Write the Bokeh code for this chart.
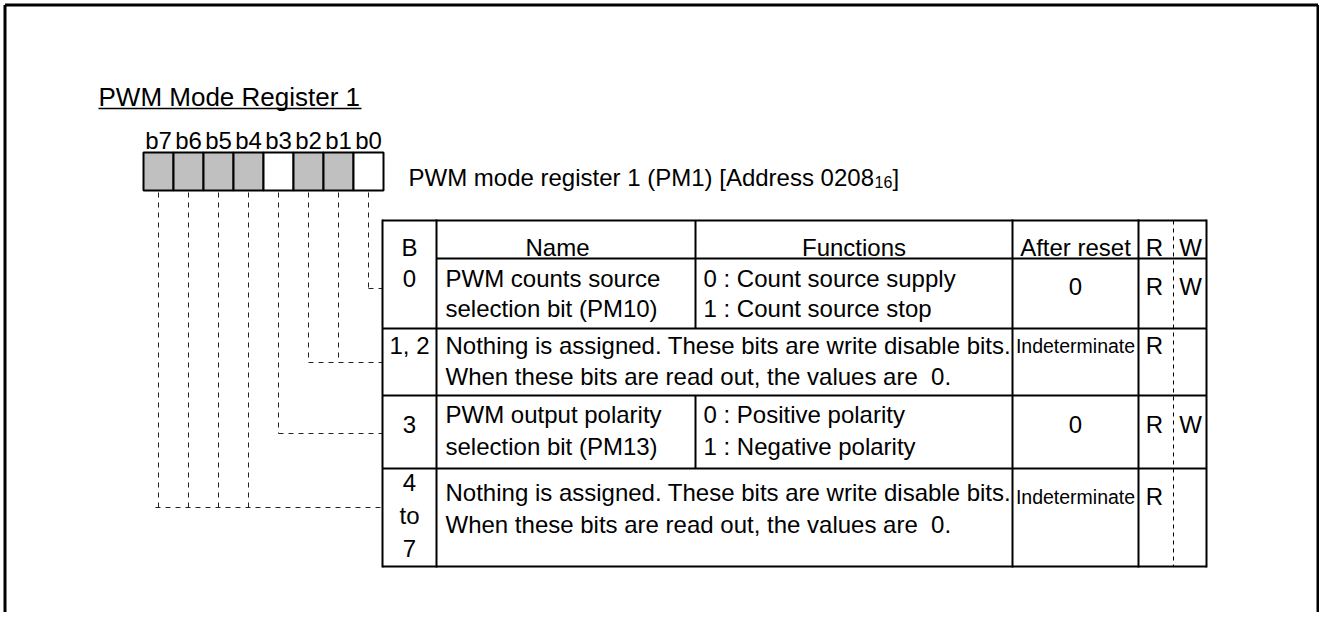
from bokeh.plotting import figure
from bokeh.models import Range1d
from bokeh.embed import file_html
from bokeh.resources import INLINE
from bokeh.core.properties import value

# ---------------- data ----------------
title_text = "PWM Mode Register 1"
bit_labels = ["b7", "b6", "b5", "b4", "b3", "b2", "b1", "b0"]
bit_unused = [True, True, True, True, False, True, True, False]
register_text = "PWM mode register 1 (PM1) [Address 0208"
register_sub = "16"
register_end = "]"
header_labels = ["B", "Name", "Functions", "After reset", "R", "W"]
row_bits = [["0"], ["1, 2"], ["3"], ["4", "to", "7"]]
row_bit_groups = [[0], [1, 2], [3], [4, 5, 6, 7]]
row_names = [["PWM counts source", "selection bit (PM10)"], None,
             ["PWM output polarity", "selection bit (PM13)"], None]
row_functions = [["0 : Count source supply", "1 : Count source stop"], None,
                 ["0 : Positive polarity", "1 : Negative polarity"], None]
nothing_text = ["Nothing is assigned. These bits are write disable bits.",
                "When these bits are read out, the values are \u00a00."]
row_spans = [None, nothing_text, None, nothing_text]
row_reset = ["0", "Indeterminate", "0", "Indeterminate"]
row_read = ["R", "R", "R", "R"]
row_write = ["W", "", "W", ""]

# ---------------- layout ----------------
W, H = 1319, 612
FONT = value("Liberation Sans")
FS = "24px"
box_left, box_w, box_top, box_bot = 143, 30, 152, 190
col_x = [382, 436, 695, 1012, 1138, 1173, 1206]
row_y = [220, 258, 328, 395, 468, 566]
line_mid = [[278, 308], [345, 376], [414, 446], [492, 524]]
bit_mid = [[278], [345], [424], [482, 515, 548]]
val_mid = [286, 345, 424, 496]
conn_y = [288, 362, 433, 507]

p = figure(width=W, height=H, x_range=Range1d(0, W), y_range=Range1d(H, 0),
           x_axis_type=None, y_axis_type=None, output_backend="svg",
           toolbar_location=None, min_border=0)
p.grid.visible = False
p.outline_line_color = None
p.background_fill_color = "white"
p.border_fill_color = "white"

# outer frame (left, top, right)
p.segment(x0=[4.5, 4.5, 1317.5], y0=[4.5, 4.5, 4.5], x1=[4.5, 1317.5, 1317.5],
          y1=[640, 4.5, 640], line_color="black", line_width=3)

# title + underline
p.text(x=[98], y=[96], text=[title_text], text_font=FONT, text_font_size="26px",
       text_baseline="middle", text_color="black")
p.segment(x0=[98], y0=[108], x1=[361], y1=[108], line_color="black", line_width=1.5)

# bit boxes
n = len(bit_labels)
lefts = [box_left + i * box_w for i in range(n)]
centers = [l + box_w / 2 for l in lefts]
p.quad(left=lefts, right=[l + box_w for l in lefts], top=[box_top] * n, bottom=[box_bot] * n,
       fill_color=["#c0c0c0" if u else "white" for u in bit_unused],
       line_color="black", line_width=2)
p.text(x=centers, y=[140] * n, text=bit_labels, text_font=FONT, text_font_size=FS,
       text_align="center", text_baseline="middle", text_color="black")

# register description
p.text(x=[408], y=[177], text=[register_text], text_font=FONT, text_font_size=FS,
       text_baseline="middle", text_color="black")
p.text(x=[874], y=[181], text=[register_sub], text_font=FONT, text_font_size="16px",
       text_baseline="middle", text_color="black")
p.text(x=[892], y=[177], text=[register_end], text_font=FONT, text_font_size=FS,
       text_baseline="middle", text_color="black")

# dashed connectors from bits to rows
vx0, vy0, vx1, vy1 = [], [], [], []
for r, grp in enumerate(row_bit_groups):
    xs = [centers[n - 1 - b] for b in grp]
    for x in xs:
        vx0.append(x); vy0.append(box_bot + 2); vx1.append(x); vy1.append(conn_y[r])
    vx0.append(min(xs) - (3 if len(grp) > 2 else 0)); vy0.append(conn_y[r])
    vx1.append(col_x[0]); vy1.append(conn_y[r])
p.segment(x0=vx0, y0=vy0, x1=vx1, y1=vy1, line_color="#222222", line_width=1,
          line_dash="5 5")

# table lines
top, bot = row_y[0], row_y[-1]
hx0 = [col_x[0], col_x[1]] + [col_x[0]] * (len(row_y) - 2)
hy = [row_y[0], row_y[1]] + row_y[2:]
hx1 = [col_x[-1]] * len(hy)
p.segment(x0=hx0, y0=hy, x1=hx1, y1=hy, line_color="black", line_width=2)
vxs = [col_x[0], col_x[1], col_x[3], col_x[4], col_x[6]]
p.segment(x0=vxs, y0=[top - 1] * len(vxs), x1=vxs, y1=[bot + 1] * len(vxs),
          line_color="black", line_width=2)
# Name/Functions divider (header, and rows having both)
dy0, dy1 = [row_y[0]], [row_y[1]]
for r in range(len(row_bits)):
    if row_names[r] is not None:
        dy0.append(row_y[r + 1]); dy1.append(row_y[r + 2])
p.segment(x0=[col_x[2]] * len(dy0), y0=dy0, x1=[col_x[2]] * len(dy0), y1=dy1,
          line_color="black", line_width=2)
# R/W dashed divider
p.segment(x0=[col_x[5]], y0=[top], x1=[col_x[5]], y1=[bot], line_color="black",
          line_width=1, line_dash="4 4")

# header texts
hcx = [(col_x[0] + col_x[1]) / 2, 557, (col_x[2] + col_x[3]) / 2,
       (col_x[3] + col_x[4]) / 2, 1154, 1190]
p.text(x=hcx, y=[247] * len(hcx), text=header_labels, text_font=FONT, text_font_size=FS,
       text_align="center", text_baseline="middle", text_color="black")

# row texts
bx, by, bt = [], [], []
lx, ly, lt = [], [], []
for r in range(len(row_bits)):
    for t, ym in zip(row_bits[r], bit_mid[r]):
        bx.append((col_x[0] + col_x[1]) / 2); by.append(ym); bt.append(t)
    if row_names[r] is not None:
        for t, ym in zip(row_names[r], line_mid[r]):
            lx.append(445); ly.append(ym); lt.append(t)
        for t, ym in zip(row_functions[r], line_mid[r]):
            lx.append(703); ly.append(ym); lt.append(t)
    else:
        for t, ym in zip(row_spans[r], line_mid[r]):
            lx.append(445); ly.append(ym); lt.append(t)
p.text(x=bx, y=by, text=bt, text_font=FONT, text_font_size=FS, text_align="center",
       text_baseline="middle", text_color="black")
p.text(x=lx, y=ly, text=lt, text_font=FONT, text_font_size=FS,
       text_baseline="middle", text_color="black")

# after reset / R / W
rc = (col_x[3] + col_x[4]) / 2
short = [i for i, v in enumerate(row_reset) if v != "Indeterminate"]
longv = [i for i, v in enumerate(row_reset) if v == "Indeterminate"]
p.text(x=[rc] * len(short), y=[val_mid[i] for i in short], text=[row_reset[i] for i in short],
       text_font=FONT, text_font_size=FS, text_align="center", text_baseline="middle",
       text_color="black")
p.text(x=[rc] * len(longv), y=[val_mid[i] for i in longv], text=[row_reset[i] for i in longv],
       text_font=FONT, text_font_size="19.5px", text_align="center",
       text_baseline="middle", text_color="black")
p.text(x=[1154] * len(row_read), y=val_mid, text=row_read, text_font=FONT, text_font_size=FS,
       text_align="center", text_baseline="middle", text_color="black")
p.text(x=[1190] * len(row_write), y=val_mid, text=row_write, text_font=FONT,
       text_font_size=FS, text_align="center", text_baseline="middle", text_color="black")

open("out.html", "w").write(file_html(p, INLINE))
